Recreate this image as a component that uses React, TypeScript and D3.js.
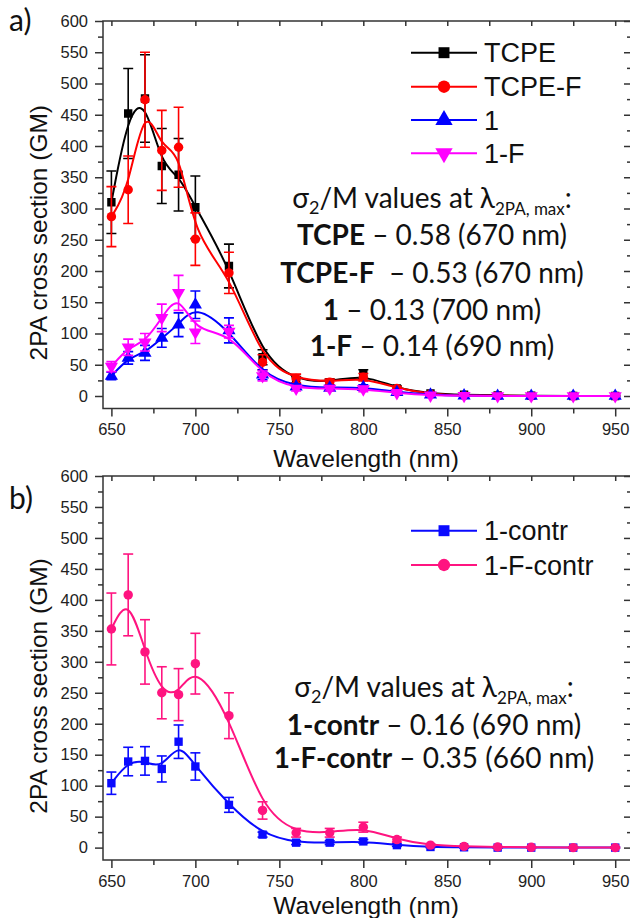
import React, { useEffect, useRef } from "react";
import * as d3 from "d3";

// wavelengths (nm) shared by every series
const wavelengths = [650, 660, 670, 680, 690, 700, 720, 740, 760, 780, 800, 820, 840, 860, 880, 900, 925, 950];

// panel a
const tcpe = [310, 452, 476, 368, 354, 302, 208, 62, 25, 22, 35, 12, 4, 2, 1, 0.5, 0, 0];
const tcpeErr = [50, 72, 70, 60, 58, 50, 35, 12, 6, 5, 7, 4, 2, 1, 1, 1, 1, 1];
const tcpeF = [287, 330, 474, 393, 398, 251, 197, 54, 28, 22, 30, 12, 3, 1, 0.5, 0, 0, 0];
const tcpeFErr = [48, 54, 76, 64, 64, 42, 33, 12, 7, 5, 6, 3, 1, 1, 1, 1, 1, 1];
const one = [32, 61, 69, 93, 114, 146, 105, 34, 15, 13, 14, 6, 2, 0.5, 0, 0, 0, 0];
const oneErr = [6, 10, 12, 15, 19, 22, 20, 8, 4, 4, 4, 2, 1, 1, 1, 1, 1, 1];
const oneF = [47, 78, 86, 125, 165, 102, 103, 32, 12, 12, 11, 5, 1, 0.5, 0, 0, 0, 0];
const oneFErr = [8, 13, 14, 22, 28, 18, 10, 8, 4, 4, 4, 2, 1, 1, 1, 1, 1, 1];

// panel b
const oneContr = [104, 139, 140, 127, 171, 131, 69, 21, 8, 8, 10, 4, 1, 0.5, 0, 0, 0, 0];
const oneContrErr = [18, 23, 23, 21, 27, 22, 12, 4, 3, 3, 3, 2, 1, 1, 1, 1, 1, 1];
const oneFContr = [353, 408, 316, 250, 247, 297, 213, 60, 24, 24, 33, 13, 4, 2, 1, 0.5, 0, 0];
const oneFContrErr = [58, 66, 52, 42, 42, 49, 37, 14, 7, 7, 8, 4, 2, 1, 1, 1, 1, 1];

// ticks
const xTicks = [650, 700, 750, 800, 850, 900, 950];
const xMinor = [675, 725, 775, 825, 875, 925];
const yTicks = d3.range(0, 601, 50);
const yMinor = d3.range(25, 600, 50);

const X0 = 103;
const X1 = 632;
const AXIS_FONT = "'Liberation Sans', Arial, sans-serif";
const NOTE_FONT = "Lato, 'Open Sans', sans-serif";

type Series = {
  name: string;
  values: number[];
  errors: number[];
  color: string;
  symbol: d3.SymbolType;
  flip?: boolean;
};

const seriesA: Series[] = [
  { name: "TCPE", values: tcpe, errors: tcpeErr, color: "#000000", symbol: d3.symbolSquare },
  { name: "TCPE-F", values: tcpeF, errors: tcpeFErr, color: "#ff0000", symbol: d3.symbolCircle },
  { name: "1", values: one, errors: oneErr, color: "#0000ff", symbol: d3.symbolTriangle },
  { name: "1-F", values: oneF, errors: oneFErr, color: "#ff00ff", symbol: d3.symbolTriangle, flip: true },
];

const seriesB: Series[] = [
  { name: "1-contr", values: oneContr, errors: oneContrErr, color: "#0a0aff", symbol: d3.symbolSquare },
  { name: "1-F-contr", values: oneFContr, errors: oneFContrErr, color: "#ff1480", symbol: d3.symbolCircle },
];

const Panel = ({ top, bottom, series, legendY, titleGap }: { top: number; bottom: number; series: Series[]; legendY: number[]; titleGap: number }) => {
  const axesRef = useRef<SVGGElement>(null);
  const x = d3.scaleLinear().domain([645, 960]).range([X0, X1]);
  const y = d3.scaleLinear().domain([-20, 600]).range([bottom, top]);

  useEffect(() => {
    const g = d3.select(axesRef.current);
    g.selectAll("*").remove();
    const noDomain = (s: any) => s.select(".domain").remove();
    const blank = () => "";

    g.append("g").attr("transform", `translate(${X0},0)`)
      .call(d3.axisLeft(y).tickValues(yTicks).tickSize(8).tickPadding(7)).call(noDomain);
    g.append("g").attr("transform", `translate(${X0},0)`)
      .call(d3.axisLeft(y).tickValues(yMinor).tickSize(5).tickFormat(blank)).call(noDomain);
    g.append("g").attr("transform", `translate(${X1},0)`)
      .call(d3.axisRight(y).tickValues(yTicks).tickSize(-8).tickFormat(blank)).call(noDomain);
    g.append("g").attr("transform", `translate(${X1},0)`)
      .call(d3.axisRight(y).tickValues(yMinor).tickSize(-5).tickFormat(blank)).call(noDomain);
    g.append("g").attr("transform", `translate(0,${bottom})`)
      .call(d3.axisBottom(x).tickValues(xTicks).tickSize(8).tickPadding(7).tickFormat(d3.format("d"))).call(noDomain);
    g.append("g").attr("transform", `translate(0,${bottom})`)
      .call(d3.axisBottom(x).tickValues(xMinor).tickSize(5).tickFormat(blank)).call(noDomain);
    g.append("g").attr("transform", `translate(0,${top})`)
      .call(d3.axisTop(x).tickValues([...xTicks, ...xMinor]).tickSize(-5).tickFormat(blank)).call(noDomain);

    g.selectAll("line").attr("stroke", "#333").attr("stroke-width", 1.5);
    g.selectAll("text").attr("font-family", AXIS_FONT).attr("font-size", 16.5).attr("fill", "#222");
  }, [top, bottom]);

  const line = d3.line<number>()
    .x((_, i) => x(wavelengths[i]))
    .y((d) => y(d))
    .curve(d3.curveBasis);

  return (
    <g>
      <defs>
        <clipPath id={`clip-${top}`}>
          <rect x={X0} y={top} width={X1 - X0} height={bottom - top} />
        </clipPath>
      </defs>
      <g clipPath={`url(#clip-${top})`}>
        {series.map((s) => {
          const sym = d3.symbol().type(s.symbol).size(s.symbol === d3.symbolTriangle ? 75 : 70)();
          return (
            <g key={s.name}>
              <path d={line(s.values) || ""} fill="none" stroke={s.color} strokeWidth={2} />
              {s.values.map((v, i) => {
                const cx = x(wavelengths[i]);
                const y1 = y(v + s.errors[i]);
                const y2 = y(v - s.errors[i]);
                return (
                  <g key={i} stroke={s.color} strokeWidth={1.6}>
                    <line x1={cx} x2={cx} y1={y1} y2={y2} />
                    <line x1={cx - 5} x2={cx + 5} y1={y1} y2={y1} />
                    <line x1={cx - 5} x2={cx + 5} y1={y2} y2={y2} />
                  </g>
                );
              })}
              {s.values.map((v, i) => (
                <path
                  key={`m${i}`}
                  d={sym || ""}
                  fill={s.color}
                  transform={`translate(${x(wavelengths[i])},${y(v)})${s.flip ? " rotate(180)" : ""}`}
                />
              ))}
            </g>
          );
        })}
      </g>
      <rect x={X0} y={top} width={X1 - X0} height={bottom - top} fill="none" stroke="#333" strokeWidth={1.5} />
      <g ref={axesRef} />
      {series.map((s, i) => {
        const ly = legendY[i];
        const sym = d3.symbol().type(s.symbol).size(s.symbol === d3.symbolTriangle ? 130 : 120)();
        return (
          <g key={`lg${s.name}`}>
            <line x1={411} x2={477} y1={ly} y2={ly} stroke={s.color} strokeWidth={2} />
            <path d={sym || ""} fill={s.color} transform={`translate(444,${ly})${s.flip ? " rotate(180)" : ""}`} />
            <text x={484} y={ly} dy="0.36em" fontFamily={AXIS_FONT} fontSize={27} fill="#111">{s.name}</text>
          </g>
        );
      })}
      <text x={366} y={bottom + titleGap} textAnchor="middle" fontFamily={AXIS_FONT} fontSize={24.5} fill="#111">
        Wavelength (nm)
      </text>
      <text
        transform={`translate(38,${(top + bottom) / 2 + 18}) rotate(-90)`}
        textAnchor="middle"
        dy="0.36em"
        fontFamily={AXIS_FONT}
        fontSize={24.5}
        fill="#111"
      >
        2PA cross section  (GM)
      </text>
    </g>
  );
};

const SigmaLine = ({ x, y }: { x: number; y: number }) => (
  <text x={x} y={y} textAnchor="middle" fontFamily={NOTE_FONT} fontSize={28} fill="#111">
    σ<tspan fontSize={18} dy={6}>2</tspan>
    <tspan dy={-6}>/M values at λ</tspan>
    <tspan fontSize={17} dy={7}>2PA, max</tspan>
    <tspan dy={-7}>:</tspan>
  </text>
);

const NoteLine = ({ x, y, bold, rest }: { x: number; y: number; bold: string; rest: string }) => (
  <text x={x} y={y} textAnchor="middle" fontFamily={NOTE_FONT} fontSize={28} fill="#111" style={{ whiteSpace: "pre" }}>
    <tspan fontWeight="bold">{bold}</tspan>
    {rest}
  </text>
);

export default function App() {
  return (
    <div style={{ position: "absolute", left: 0, top: 0 }}>
      <svg width={630} height={918} style={{ display: "block", background: "#fff" }}>
        <Panel top={21} bottom={408.5} series={seriesA} legendY={[52.7, 86.7, 120, 153.3]} titleGap={58} />
        <Panel top={476} bottom={860} series={seriesB} legendY={[530.7, 565]} titleGap={54} />

        <text x={9} y={31} fontFamily={NOTE_FONT} fontSize={30} fill="#111">a)</text>
        <text x={9} y={509} fontFamily={NOTE_FONT} fontSize={30} fill="#111">b)</text>

        <SigmaLine x={432} y={208} />
        <NoteLine x={432} y={245} bold="TCPE" rest=" – 0.58 (670 nm)" />
        <NoteLine x={432} y={283} bold="TCPE-F" rest="  – 0.53 (670 nm)" />
        <NoteLine x={432} y={320} bold="1" rest=" – 0.13 (700 nm)" />
        <NoteLine x={432} y={356} bold="1-F" rest=" – 0.14 (690 nm)" />

        <SigmaLine x={434} y={697} />
        <NoteLine x={434} y={735} bold="1-contr" rest=" – 0.16 (690 nm)" />
        <NoteLine x={434} y={768} bold="1-F-contr" rest=" – 0.35 (660 nm)" />
      </svg>
    </div>
  );
}
